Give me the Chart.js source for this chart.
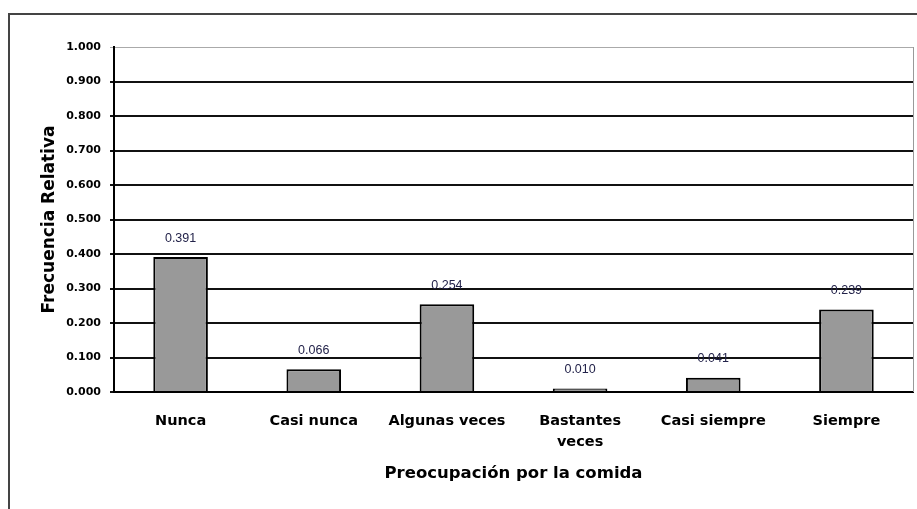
<!DOCTYPE html>
<html>
<head>
<meta charset="utf-8">
<script src="https://cdn.jsdelivr.net/npm/chart.js@4.4.0/dist/chart.umd.min.js"></script>
<style>
  html, body { margin: 0; padding: 0; background: #fff; }
  #wrap { position: relative; width: 917px; height: 509px; }
</style>
</head>
<body>
<div id="wrap"><canvas id="myChart" width="917" height="509"></canvas></div>
<script>
'use strict';

// categorías y valores
var categories = ["Nunca", "Casi nunca", "Algunas veces", ["Bastantes", "veces"], "Casi siempre", "Siempre"];
var frecuencias = [0.391, 0.066, 0.254, 0.010, 0.041, 0.239];
var yTitle = "Frecuencia Relativa";
var xTitle = "Preocupación por la comida";

var boldFont = "'DejaVu Sans', sans-serif";

// marco exterior y fondo
var framePlugin = {
  id: "frame",
  beforeDraw: function (chart) {
    var c = chart.ctx;
    c.save();
    c.fillStyle = "#fff";
    c.fillRect(0, 0, chart.width, chart.height);
    c.strokeStyle = "#444";
    c.lineWidth = 2;
    c.beginPath();
    c.moveTo(9, chart.height);
    c.lineTo(9, 14);
    c.lineTo(chart.width, 14);
    c.stroke();
    c.restore();
  },
  beforeDatasetsDraw: function (chart) {
    // borde derecho gris del área de trazado
    var a = chart.chartArea;
    var c = chart.ctx;
    c.save();
    c.strokeStyle = "#999";
    c.lineWidth = 1;
    c.beginPath();
    c.moveTo(a.right + 0.5, a.top);
    c.lineTo(a.right + 0.5, a.bottom);
    c.stroke();
    c.restore();
  }
};

// etiquetas de valor encima de las barras
var valueLabels = {
  id: "valueLabels",
  afterDatasetsDraw: function (chart) {
    var c = chart.ctx;
    var meta = chart.getDatasetMeta(0);
    c.save();
    c.font = "12.5px 'Liberation Sans', Arial, sans-serif";
    c.fillStyle = "#23234a";
    c.textAlign = "center";
    c.textBaseline = "middle";
    meta.data.forEach(function (bar, i) {
      c.fillText(frecuencias[i].toFixed(3), bar.x, bar.y - 19);
    });
    c.restore();
  }
};

var ctx = document.getElementById("myChart").getContext("2d");

var myChart = new Chart(ctx, {
  type: "bar",
  data: {
    labels: categories,
    datasets: [{
      data: frecuencias,
      backgroundColor: "#999999",
      borderColor: "#000",
      borderWidth: 2,
      categoryPercentage: 1,
      barPercentage: 0.41
    }]
  },
  options: {
    responsive: false,
    animation: false,
    layout: { padding: { left: 0, top: 47, right: 4, bottom: 0 } },
    plugins: {
      legend: { display: false },
      tooltip: { enabled: false }
    },
    scales: {
      x: {
        grid: { display: false },
        border: { color: "#000", width: 2 },
        ticks: {
          color: "#000",
          padding: 10,
          maxRotation: 0,
          autoSkip: false,
          font: { family: boldFont, size: 14.5, weight: "bold", lineHeight: 1.5 }
        },
        title: {
          display: true,
          text: xTitle,
          color: "#000",
          padding: { top: 0, bottom: 25 },
          font: { family: boldFont, size: 16.5, weight: "bold" }
        },
        afterFit: function (scale) { scale.height = 117; }
      },
      y: {
        min: 0,
        max: 1,
        grid: {
          color: function (c) { return c.tick && c.tick.value === 1 ? "#aaa" : "#111"; },
          lineWidth: function (c) { return c.tick && c.tick.value === 1 ? 1 : 2; },
          tickLength: 4
        },
        border: { color: "#000", width: 2 },
        ticks: {
          stepSize: 0.1,
          color: "#000",
          padding: 9,
          font: { family: boldFont, size: 11, weight: "bold" },
          callback: function (v) { return Number(v).toFixed(3); }
        },
        title: {
          display: true,
          text: yTitle,
          color: "#000",
          padding: { top: 39, bottom: 0 },
          font: { family: boldFont, size: 17, weight: "bold" }
        },
        afterFit: function (scale) { scale.width = 114; }
      }
    }
  },
  plugins: [framePlugin, valueLabels]
});
</script>
</body>
</html>
